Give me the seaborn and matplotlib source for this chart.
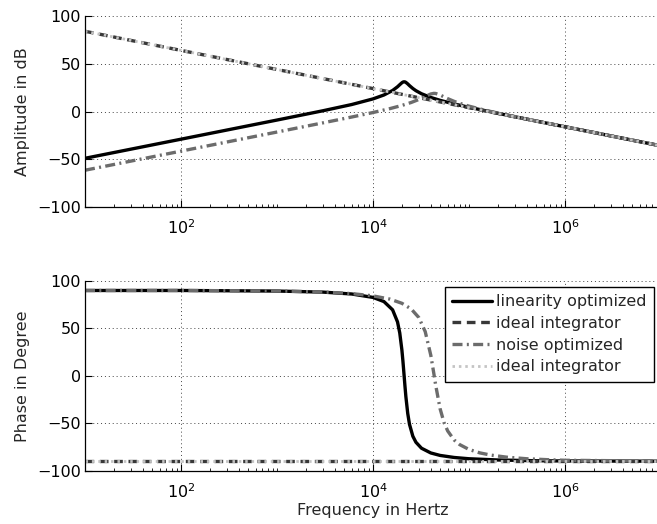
import numpy as np
import pandas as pd
import matplotlib
matplotlib.use("Agg")
import matplotlib.pyplot as plt
import matplotlib.ticker as mticker
import seaborn as sns

# ---------------- data ----------------
freq_lin = [10, 100, 1e3, 3e3, 6e3, 1e4, 1.3e4, 1.6e4, 1.8e4, 1.9e4, 2e4, 2.05e4,
            2.1e4, 2.15e4, 2.2e4, 2.3e4, 2.4e4, 2.6e4, 2.8e4, 3.2e4, 4e4, 5e4,
            7e4, 1e5, 2e5, 5e5, 1e6, 1e7]
amp_lin = [-49.0, -29.0, -8.95, 0.75, 7.3, 13.2, 17.3, 22.0, 25.9, 28.1, 30.1, 30.8,
           31.1, 31.0, 30.5, 28.9, 27.1, 24.1, 21.8, 18.6, 14.7, 11.7,
           7.9, 4.4, -1.9, -10.0, -16.0, -36.0]
phase_lin = [90.0, 90.0, 89.4, 88.3, 86.3, 82.7, 78.3, 69.6, 56.9, 45.2, 27.2, 15.5,
             2.6, -10.25, -21.9, -39.6, -51.1, -63.65, -70.0, -76.3, -81.3, -83.9,
             -86.05, -87.4, -88.7, -89.5, -89.75, -90.0]

freq_noise = [10, 100, 1e3, 3e3, 6e3, 1e4, 1.5e4, 2e4, 2.5e4, 3e4, 3.5e4, 4e4,
              4.3e4, 4.5e4, 5e4, 5.5e4, 6e4, 7e4, 8e4, 1e5, 1.3e5, 1.7e5, 2.5e5,
              4e5, 7e5, 1e6, 1e7]
amp_noise = [-61.5, -41.5, -21.5, -11.92, -5.78, -1.07, 3.02, 6.35, 9.45, 12.57, 15.74, 18.36,
             18.99, 18.87, 17.29, 15.26, 13.45, 10.63, 8.56, 5.61, 2.64, -0.08, -3.71,
             -7.95, -12.87, -16.0, -36.0]
phase_noise = [90.0, 90.0, 89.5, 88.4, 86.7, 84.3, 80.9, 76.5, 70.5, 61.5, 46.6, 21.7,
               2.6, -10.0, -34.7, -49.4, -58.1, -67.6, -72.5, -77.6, -81.25, -83.6, -85.8,
               -87.4, -88.5, -89.0, -89.9]

freq_int = [10, 1e7]
amp_int = [84.0, -36.0]
phase_int = [-90.0, -90.0]

labels = ["linearity optimized", "ideal integrator", "noise optimized", "ideal integrator"]
y_labels = ["Amplitude in dB", "Phase in Degree"]
x_label = "Frequency in Hertz"

# ---------------- styling ----------------
sns.set_style("ticks")
plt.rcParams["font.family"] = ["DejaVu Sans"]
plt.rcParams["mathtext.default"] = "regular"
FS = 11.5

styles = [
    dict(color="black", lw=2.4, linestyle="-"),
    dict(color="#383838", lw=2.4, linestyle=(0, (2.6, 1.7))),
    dict(color="#6c6c6c", lw=2.4, linestyle=(0, (3.0, 1.3, 0.6, 1.3))),
    dict(color="#c4c4c4", lw=2.0, linestyle=(0, (0.9, 1.4))),
]

fig = plt.figure(figsize=(6.57, 5.24), dpi=100)
W = 576 / 657
ax1 = fig.add_axes([85 / 657, 1 - 207 / 524, W, 191 / 524])
ax2 = fig.add_axes([85 / 657, 1 - 470.7 / 524, W, 189.7 / 524])

series_top = [(freq_lin, amp_lin), (freq_int, amp_int), (freq_noise, amp_noise), (freq_int, amp_int)]
series_bot = [(freq_lin, phase_lin), (freq_int, phase_int), (freq_noise, phase_noise), (freq_int, phase_int)]

for ax, series, show_leg in [(ax1, series_top, False), (ax2, series_bot, True)]:
    for (fx, fy), st, lab in zip(series, styles, labels):
        df = pd.DataFrame({"f": fx, "v": fy})
        sns.lineplot(data=df, x="f", y="v", ax=ax, label=lab if show_leg else None,
                     legend=False, sort=False, **st)
    ax.set_xscale("log")
    ax.set_xlim(10, 1e7)
    ax.set_ylim(-100, 100)
    ax.set_yticks([-100, -50, 0, 50, 100])
    ax.xaxis.set_major_locator(mticker.FixedLocator([1e2, 1e4, 1e6]))
    ax.xaxis.set_major_formatter(mticker.LogFormatterMathtext())
    ax.xaxis.set_minor_locator(mticker.LogLocator(base=10, subs=np.arange(1, 10), numticks=50))
    ax.xaxis.set_minor_formatter(mticker.NullFormatter())
    ax.tick_params(axis="both", which="major", direction="in", length=5, width=0.8,
                   labelsize=FS, colors="black", left=True, bottom=True)
    ax.tick_params(axis="x", which="major", pad=8)
    ax.tick_params(axis="x", which="minor", direction="in", length=2.5, width=0.6,
                   bottom=True, colors="black")
    ax.tick_params(axis="y", which="major", pad=3)
    for s in ["top", "right"]:
        ax.spines[s].set_visible(False)
    for s in ["left", "bottom"]:
        ax.spines[s].set_color("black")
        ax.spines[s].set_linewidth(0.9)
    ax.grid(True, which="major", linestyle=(0, (1, 3)), color="#444444", lw=0.7)
    ax.grid(False, which="minor")
    ax.set_xlabel("")
    ax.set_ylabel("")

ax1.set_ylabel(y_labels[0], fontsize=FS)
ax2.set_ylabel(y_labels[1], fontsize=FS)
ax1.yaxis.set_label_coords(-0.096, 0.5)
ax2.yaxis.set_label_coords(-0.096, 0.5)
ax2.set_xlabel(x_label, fontsize=FS, labelpad=2)

leg = ax2.legend(loc="upper right", bbox_to_anchor=(0.988, 0.968), borderaxespad=0,
                 fontsize=FS, frameon=True, fancybox=False, framealpha=1,
                 edgecolor="black", handlelength=2.5, handletextpad=0.25,
                 labelspacing=0.42, borderpad=0.45)
leg.get_frame().set_linewidth(1.0)

fig.savefig("out.png", dpi=100)
